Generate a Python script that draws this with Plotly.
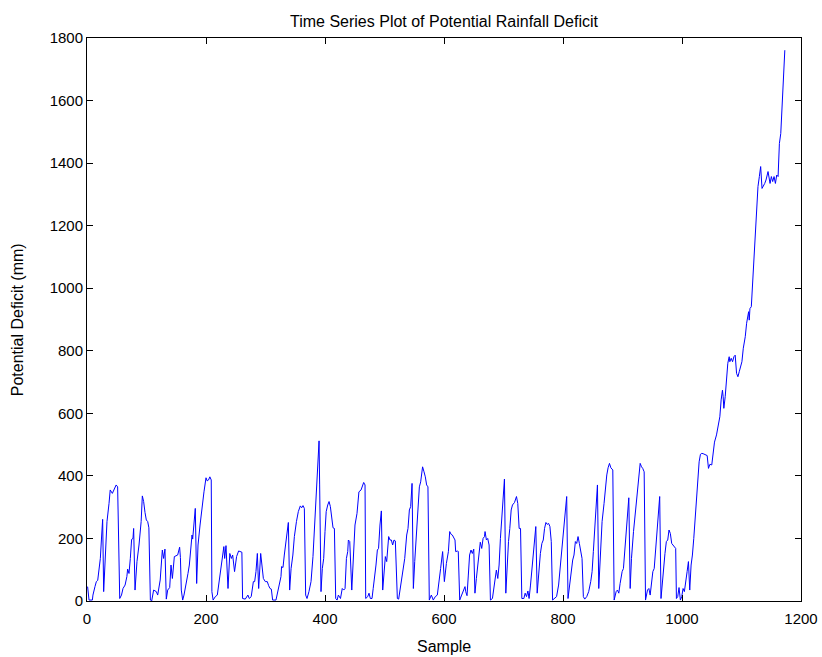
import plotly.graph_objects as go

sample = [
    1, 3.4, 9, 10, 13.4, 15.7, 18, 20, 22.4, 24.7, 26.3, 28, 30, 33.6, 37, 39, 42.6, 46, 49, 51.5,
    52.7, 55, 58, 60.5, 64, 67, 68.3, 70.6, 72.8, 75, 77.3, 78.4, 80.7, 84, 87.4, 91, 93, 95.2, 97.5,
    99.7, 102, 104, 106.5, 108.7, 112, 116.5, 118.8, 123, 126.6, 128.8, 131, 133.3, 135.6, 139, 141.2,
    143.5, 146.8, 149, 152.4, 155.7, 157, 158.5, 160.8, 163, 166.4, 169.7, 172, 174.2, 176.5, 177.6,
    179.8, 182, 184.3, 186.6, 190, 192, 194.4, 196.6, 200, 202, 204.3, 206.5, 208.8, 209.9, 212,
    215.7, 219, 222.4, 225.7, 228, 230, 231.4, 233.6, 237, 240, 242.6, 244.8, 248, 251.4, 254.8, 258,
    260.3, 261.5, 266, 270.4, 272.7, 276, 279.6, 281.8, 284, 286.3, 288.5, 291.9, 294, 296.4, 299.7,
    303, 305.3, 307.6, 309.8, 312, 317.6, 319.3, 322.7, 326, 327, 329.4, 331.6, 333.9, 336, 338.4,
    340.6, 343, 346, 348.5, 352, 355.2, 358.5, 360.8, 363, 365.3, 367.5, 369.8, 373, 376.5, 379.8,
    382, 384.3, 386.5, 388.8, 390, 391, 393.3, 395.5, 397.8, 400, 402, 404.6, 406.8, 409, 411.3,
    413.5, 415.8, 418, 420.3, 422.5, 426, 429, 431.5, 433.7, 436, 438.2, 439.3, 441.6, 445, 447,
    450.4, 453.8, 457, 460.6, 462.8, 465, 467.3, 468.4, 471.8, 474, 476.2, 479, 481, 483.5, 485.7,
    488, 490, 492.4, 494.7, 497, 499, 501.4, 503.7, 507, 509.2, 511.5, 513.7, 516, 518.2, 521.6,
    523.8, 527.2, 530.5, 534, 537.3, 539.5, 541.8, 544, 546.3, 548.5, 550.8, 553, 556.3, 558.6,
    560.8, 563, 564, 566.4, 568.6, 570.8, 573, 575.3, 578.7, 582, 585.4, 588.8, 592, 594.3, 597.7,
    600.6, 604, 607.4, 609.6, 612, 614, 616.3, 618.5, 619.6, 623, 624, 626.4, 629.7, 633, 635.3,
    636.5, 638.7, 640.9, 643, 645.4, 647.6, 650, 652, 654.4, 656.6, 658.9, 661, 663.4, 665.7, 668,
    669, 671.3, 673.5, 675.8, 678, 681.4, 684.7, 688, 690.4, 692.6, 694.8, 697.1, 699.4, 701.6,
    703.9, 706, 708.4, 710.6, 712.9, 715.1, 718.5, 721.8, 724, 726.3, 728.6, 730.8, 734.2, 736.4,
    738.7, 741, 743, 745.4, 747.6, 751, 754.3, 756.6, 760, 762, 764.5, 766.8, 769, 771.3, 773.5,
    775.8, 778, 780.3, 782.5, 785.9, 789.2, 792.6, 796, 799.3, 800.6, 804, 806.2, 808.4, 811.8, 814,
    816.3, 818.5, 820.8, 823, 825.3, 827.5, 829.8, 832, 834.2, 836.5, 839.9, 843.2, 846.6, 848.9,
    851, 853.4, 855.6, 857.9, 860.1, 863.5, 865.7, 869, 871.4, 873.6, 875.8, 878.1, 880.4, 883.7,
    886, 889.3, 891.5, 893.8, 896, 899.4, 901.6, 903.9, 907.3, 910.6, 912.9, 915.1, 918.5, 921.8,
    924, 927.4, 929.7, 932, 934, 936.4, 938.7, 942, 944.3, 946.5, 948.8, 951, 953.3, 955.5, 958,
    960.2, 962.5, 964.7, 967, 969.2, 971.4, 973.7, 976, 978.2, 980.4, 982.7, 985, 987.2, 989.4,
    990.6, 992.8, 995, 997.3, 999.6, 1001.8, 1004, 1006.3, 1008.6, 1010.8, 1013, 1015.3, 1017.5,
    1019.8, 1022, 1024.3, 1026.5, 1028.8, 1031, 1033.3, 1035.5, 1038.9, 1042.3, 1044.5, 1046.8, 1050,
    1052.4, 1054.6, 1058, 1061.3, 1063.6, 1065.8, 1068, 1069.2, 1070.3, 1072.6, 1074.8, 1077, 1079.3,
    1080.4, 1082.7, 1085, 1087.2, 1089.4, 1091.7, 1094, 1096.2, 1098.4, 1100.7, 1103, 1106.3, 1108.6,
    1110.8, 1112, 1113, 1114.2, 1116.5, 1118.7, 1121, 1123.2, 1125.5, 1127.7, 1130, 1132.2, 1134.5,
    1136.7, 1139, 1141.2, 1144.6, 1148, 1150.2, 1152.4, 1154.7, 1157, 1159.2, 1161.5, 1163.7, 1166,
    1168.2, 1170.5, 1172.8,
]

deficit = [
    46, 3, 3, 19, 46, 62, 66, 94, 136, 211, 261, 30, 126, 254, 312, 355, 344, 360, 371, 365,
    254, 8, 19, 40, 51, 78, 102, 88, 136, 197, 200, 232, 35, 126, 179, 254, 336, 318, 283,
    259, 254, 234, 3, 0, 35, 30, 19, 67, 163, 136, 166, 6, 35, 43, 115,
    72, 142, 144, 147, 172, 139, 35, 3, 19, 62, 88, 115, 168, 211, 198,
    243, 296, 56, 179, 243, 280, 307, 349, 394, 384, 387, 397, 387, 30, 3,
    14, 19, 62, 115, 142, 174, 136, 177, 40, 152, 136, 147, 94, 142, 160, 158,
    156, 8, 6, 19, 8, 14, 62, 62, 94, 152, 40, 152, 104, 72, 62,
    62, 49, 40, 38, 3, 3, 19, 51, 78, 110, 107, 147, 184, 200, 251,
    35, 104, 147, 206, 254, 286, 304, 298, 305, 296, 19, 8, 30, 62, 142,
    222, 318, 381, 456, 512, 371, 30, 104, 136, 222, 286, 307, 318, 302, 275,
    234, 232, 8, 3, 19, 8, 40, 35, 40, 136, 158, 195, 190, 35, 126,
    243, 280, 349, 355, 371, 379, 371, 8, 14, 25, 8, 8, 40, 72, 115,
    163, 168, 243, 288, 35, 83, 142, 126, 206, 195, 195, 179, 195, 192, 8,
    6, 51, 83, 136, 211, 232, 291, 302, 376, 40, 126, 200, 275, 365,
    381, 408, 429, 413, 397, 371, 365, 3, 19, 3, 14, 19, 78, 104, 158,
    62, 120, 158, 222, 213, 211, 200, 195, 158, 160, 158, 3, 19, 35, 46,
    30, 17, 83, 147, 163, 152, 166, 25, 72, 115, 147, 188, 168, 200, 206,
    222, 195, 200, 179, 3, 8, 62, 99, 72, 115, 200, 275, 339, 390,
    25, 115, 190, 232, 291, 307, 315, 334, 312, 232, 232, 8, 8, 25,
    14, 32, 8, 51, 94, 158, 238, 25, 115, 152, 184, 195, 232, 251, 245,
    248, 238, 190, 3, 8, 14, 51, 126, 179, 200, 275, 334, 8, 62, 104,
    131, 147, 190, 184, 206, 184, 163, 136, 14, 6, 14, 30, 62, 94,
    158, 232, 307, 371, 40, 147, 254, 312, 365, 403, 426, 440, 426, 419,
    3, 30, 35, 25, 56, 94, 104, 158, 243, 330, 40, 136, 222, 286,
    349, 403, 440, 429, 424, 413, 3, 35, 40, 19, 51, 94, 104, 158, 222,
    286, 334, 8, 62, 115, 152, 190, 195, 227, 216, 184, 179, 174, 168,
    8, 14, 43, 3, 14, 40, 30, 72, 94, 126, 35, 115, 147,
    200, 264, 339, 403, 445, 469, 472, 471, 469, 465, 424, 437, 435,
    483, 508, 531, 566, 589, 643, 674, 653, 616, 653, 706, 760, 781,
    765, 776, 765, 781, 786, 728, 717, 733, 749, 765, 808, 845, 888,
    909, 925, 898, 935, 941, 1026, 1101, 1186, 1271, 1325, 1357, 1389, 1319,
    1325, 1335, 1346, 1373, 1335, 1357, 1341, 1357, 1335, 1362, 1357, 1463, 1495,
    1580, 1676, 1761,
]

x_ticks = [0, 200, 400, 600, 800, 1000, 1200]
y_ticks = [0, 200, 400, 600, 800, 1000, 1200, 1400, 1600, 1800]

FONT = "Liberation Sans, Arial, sans-serif"

fig = go.Figure()
fig.add_trace(go.Scatter(
    x=sample, y=deficit, mode="lines",
    line=dict(color="#0000ff", width=1),
    showlegend=False,
))

axis_common = dict(
    showline=True, linecolor="black", linewidth=1, mirror="allticks",
    ticks="inside", ticklen=6, tickcolor="black", tickwidth=1,
    showgrid=False, zeroline=False, automargin=False,
    tickfont=dict(family=FONT, size=15, color="black"),
)

fig.update_layout(
    width=822, height=657, autosize=False,
    margin=dict(l=87, r=21, t=38, b=56, autoexpand=False),
    paper_bgcolor="white", plot_bgcolor="white",
    font=dict(family=FONT, size=15, color="black"),
    title=dict(
        text="Time Series Plot of Potential Rainfall Deficit",
        x=0.5, xref="paper", xanchor="center",
        y=1, yref="paper", yanchor="bottom", pad=dict(b=11),
        font=dict(family=FONT, size=16, color="black"),
    ),
    xaxis=dict(range=[0, 1200], tickvals=x_ticks, ticklabelstandoff=4, **axis_common),
    yaxis=dict(range=[0, 1800], tickvals=y_ticks, **axis_common),
    annotations=[
        dict(text="Sample", xref="paper", yref="paper", x=0.5, y=-0.08,
             xanchor="center", yanchor="middle", showarrow=False,
             font=dict(family=FONT, size=16, color="black")),
        dict(text="Potential Deficit (mm)", xref="paper", yref="paper", x=-0.097, y=0.5,
             xanchor="center", yanchor="middle", textangle=-90, showarrow=False,
             font=dict(family=FONT, size=16, color="black")),
    ],
)

fig.write_html("out.html")
